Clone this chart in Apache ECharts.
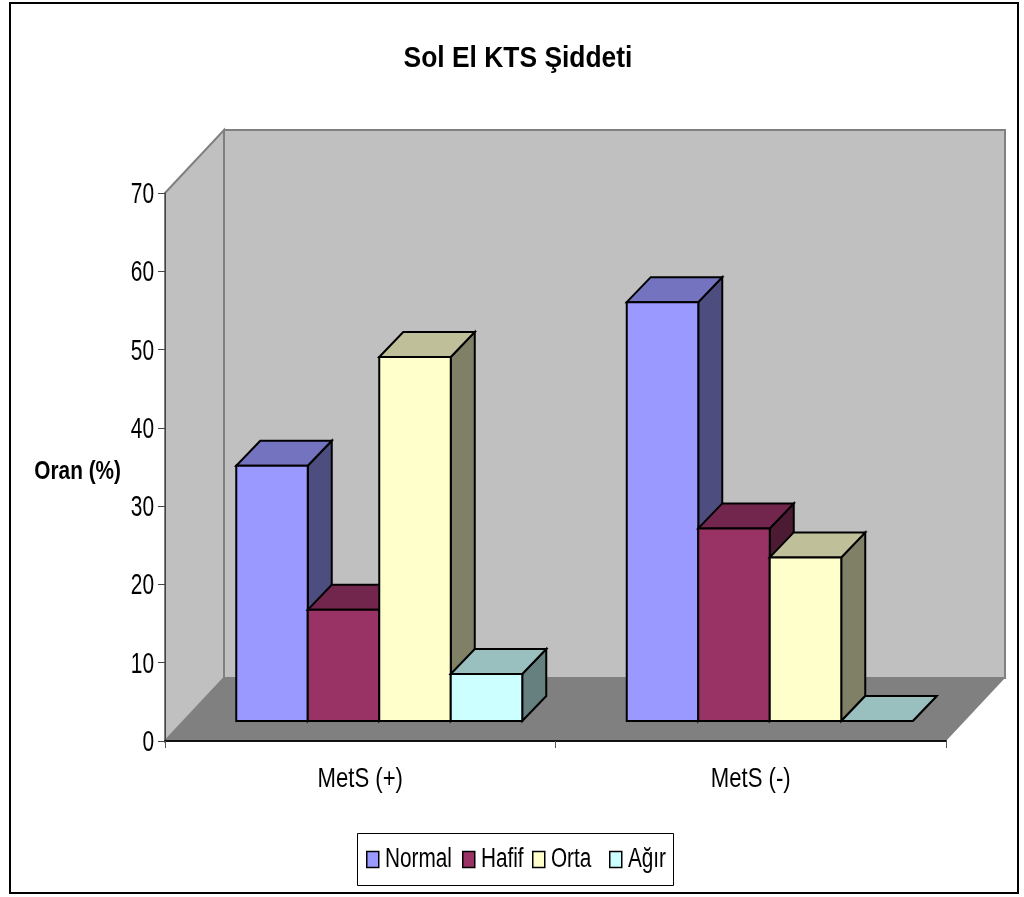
<!DOCTYPE html>
<html><head><meta charset="utf-8">
<style>html,body{margin:0;padding:0;background:#fff}#c{width:1024px;height:897px}</style>
<script src="https://cdn.jsdelivr.net/npm/echarts@6/dist/echarts.min.js"></script>
</head><body><div id="c"></div>
<script>
const categories = ["MetS (+)", "MetS (-)"];
const normal = [32.6, 53.5];
const hafif = [14.2, 24.6];
const orta = [46.5, 20.9];
const agir = [6, 0];
const seriesNames = ["Normal", "Hafif", "Orta", "Ağır"];
const yTicks = {min: 0, max: 70, interval: 10};

const FONT = '"Liberation Sans",Arial,sans-serif';
const wall = [59, -63], barDepth = [24, -25], barShift = [19, -20], barW = 71.5;
const palette = [
  {front: "#9999FF", top: "#7373BF", side: "#4D4D80"},
  {front: "#993366", top: "#73264D", side: "#4D1A33"},
  {front: "#FFFFCC", top: "#BFBF99", side: "#808066"},
  {front: "#CCFFFF", top: "#99BFBF", side: "#668080"}
];
const poly = (points, fill, stroke, lw) => ({
  type: "polygon", shape: {points},
  style: {fill, stroke, lineWidth: lw, lineJoin: "miter"}
});
function barSeries(name, values, idx) {
  return {
    type: "custom", name, z: 2,
    itemStyle: {color: palette[idx].front, borderColor: "#000", borderWidth: 1.5},
    data: values.map((v, i) => [i, v]),
    encode: {x: 0, y: 1},
    renderItem(params, api) {
      const cat = api.value(0), val = api.value(1);
      const c = api.coord([cat, val]), b = api.coord([cat, 0]);
      const x0 = c[0] + barShift[0] + (idx - 2) * barW, x1 = x0 + barW;
      const yB = b[1] + barShift[1], top = c[1] + barShift[1];
      const dx = barDepth[0], dy = barDepth[1], col = palette[idx];
      return {type: "group", children: [
        poly([[x1, top], [x1 + dx, top + dy], [x1 + dx, yB + dy], [x1, yB]], col.side, "#000", 2),
        poly([[x0, top], [x0 + dx, top + dy], [x1 + dx, top + dy], [x1, top]], col.top, "#000", 2),
        poly([[x0, top], [x1, top], [x1, yB], [x0, yB]], col.front, "#000", 2)
      ]};
    }
  };
}
const wallSeries = {
  type: "custom", z: 1, silent: true, data: [[0, 0]], encode: {x: 0, y: 1},
  renderItem(params) {
    const s = params.coordSys, l = s.x, r = s.x + s.width, t = s.y, b = s.y + s.height;
    const dx = wall[0], dy = wall[1];
    return {type: "group", children: [
      poly([[l, b], [l, t], [l + dx, t + dy], [l + dx, b + dy]], "#C0C0C0", "#808080", 2),
      poly([[l + dx, t + dy], [r + dx, t + dy], [r + dx, b + dy], [l + dx, b + dy]], "#C0C0C0", "#808080", 2),
      poly([[l, b], [l + dx, b + dy], [r + dx, b + dy], [r, b]], "#808080", null, 0)
    ]};
  }
};
const legendLefts = [366, 462, 532, 609];
const chart = echarts.init(document.getElementById("c"), null, {renderer: "canvas"});
chart.setOption({
  animation: false,
  backgroundColor: "#fff",
  title: {
    text: "Sol El KTS Şiddeti", left: 513, top: 39, textAlign: "center",
    textStyle: {fontFamily: FONT, fontWeight: "bold", fontSize: 30, color: "#000"}
  },
  grid: {left: 165, top: 193, width: 781, height: 548, outerBoundsMode: "none"},
  xAxis: {
    type: "category", data: categories, z: 3,
    axisLine: {lineStyle: {color: "#111", width: 2}},
    axisTick: {show: true, length: 7, lineStyle: {color: "#555", width: 1}},
    axisLabel: {fontFamily: FONT, fontSize: 28, color: "#000", margin: 24},
    splitLine: {show: false}
  },
  yAxis: {
    type: "value", min: yTicks.min, max: yTicks.max, interval: yTicks.interval, z: 3,
    name: "Oran (%)", nameLocation: "middle", nameGap: 44, nameRotate: 0, nameMoveOverlap: false,
    nameTextStyle: {fontFamily: FONT, fontWeight: "bold", fontSize: 26, color: "#000"},
    axisLine: {show: true, lineStyle: {color: "#444", width: 1}},
    axisTick: {show: true, length: 7, lineStyle: {color: "#444", width: 1}},
    axisLabel: {fontFamily: FONT, fontSize: 29, color: "#000", margin: 11},
    splitLine: {show: false}
  },
  legend: seriesNames.map((n, i) => ({
    data: [n], left: legendLefts[i], top: 846, padding: 0, z: 6,
    icon: "rect", itemWidth: 12, itemHeight: 16, itemGap: 0,
    selectedMode: false,
    itemStyle: {borderColor: "#000", borderWidth: 1.5},
    textStyle: {fontFamily: FONT, fontSize: 27, color: "#000"}
  })),
  graphic: [
    {type: "rect", z: -10, silent: true, shape: {x: 10, y: 3, width: 1008, height: 890},
     style: {fill: "#fff", stroke: "#000", lineWidth: 2}},
    {type: "rect", z: 5, silent: true, shape: {x: 357.5, y: 833.5, width: 316, height: 52},
     style: {fill: "#fff", stroke: "#000", lineWidth: 1}}
  ],
  series: [wallSeries,
    barSeries(seriesNames[0], normal, 0),
    barSeries(seriesNames[1], hafif, 1),
    barSeries(seriesNames[2], orta, 2),
    barSeries(seriesNames[3], agir, 3)]
});

// The reference text is horizontally condensed; no narrow font is installed.
const zr = chart.getZr();
zr.storage.traverse(el => {
  if (el.type !== "text" || !el.style || el.style.text == null) return;
  const t = String(el.style.text);
  let scale = 0.72, nudgeY = 2, originShift = 0;
  if (t === "Sol El KTS Şiddeti") { scale = 0.88; nudgeY = 0; }
  else if (t === "Oran (%)") { scale = 0.8; nudgeY = 5; }
  else if (categories.includes(t)) { scale = 0.79; nudgeY = 0; }
  else if (seriesNames.includes(t)) { scale = 0.77; nudgeY = 0; originShift = 5; }
  el.scaleX = scale;
  el.originX = (el.style.x || 0) + originShift;
  el.y = (el.y || 0) + nudgeY;
  el.dirty && el.dirty();
});
zr.refreshImmediately();
</script></body></html>
